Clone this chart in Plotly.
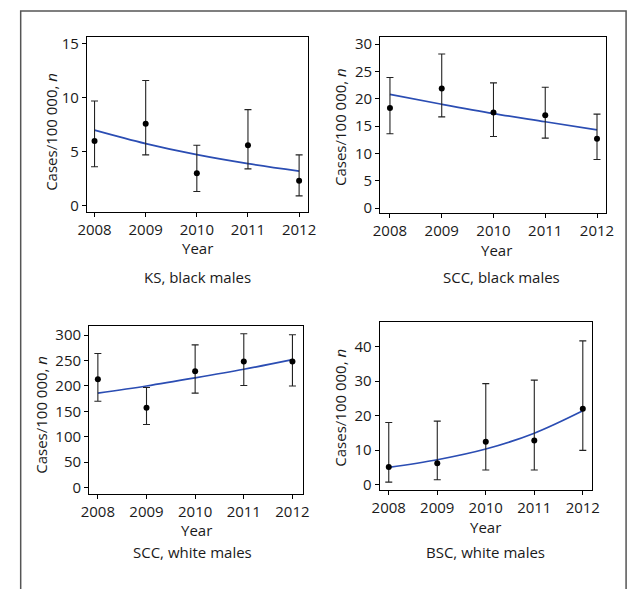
import plotly.graph_objects as go

years = [2008, 2009, 2010, 2011, 2012]
year_ticks = ["2008", "2009", "2010", "2011", "2012"]

# Panel 1: KS, black males
ks_black_val = [6.0, 7.6, 3.0, 5.6, 2.3]
ks_black_lo = [3.6, 4.7, 1.3, 3.4, 0.9]
ks_black_hi = [9.7, 11.6, 5.6, 8.9, 4.7]
ks_black_fit = [7.0, 5.75, 4.72, 3.89, 3.2]

# Panel 2: SCC, black males
scc_black_val = [18.3, 21.9, 17.5, 17.0, 12.7]
scc_black_lo = [13.6, 16.7, 13.1, 12.8, 8.9]
scc_black_hi = [23.9, 28.2, 22.9, 22.1, 17.2]
scc_black_fit = [20.8, 19.0, 17.3, 15.8, 14.3]

# Panel 3: SCC, white males
scc_white_val = [213, 157, 229, 248, 248]
scc_white_lo = [170, 124, 186, 201, 200]
scc_white_hi = [264, 197, 281, 303, 301]
scc_white_fit = [186, 200, 216, 233, 252]

# Panel 4: BSC, white males
bsc_white_val = [5.1, 6.2, 12.4, 12.8, 22.0]
bsc_white_lo = [0.7, 1.4, 4.2, 4.2, 9.9]
bsc_white_hi = [18.0, 18.4, 29.3, 30.3, 41.7]
bsc_white_fit = [5.0, 7.2, 10.3, 14.9, 21.4]

panel_titles = ["KS, black males", "SCC, black males", "SCC, white males", "BSC, white males"]
y_ticks = [[0, 5, 10, 15], [0, 5, 10, 15, 20, 25, 30],
           [0, 50, 100, 150, 200, 250, 300], [0, 10, 20, 30, 40]]

W, H = 637, 589
FONT = "Open Sans"
FS = 15
BLUE = "#2B4DB3"
TXT = "#1a1a1a"

def px(x):
    return x / W

def py(y):
    return 1 - y / H

panels = [
    dict(val=ks_black_val, lo=ks_black_lo, hi=ks_black_hi, fit=ks_black_fit,
         box=(80, 307, 33.7, 211.7), xr=[2007.85, 2012.17], yr=[-0.64, 15.62],
         ytitle=(43, 130), xtitle=(194, 248), ptitle=(194, 277)),
    dict(val=scc_black_val, lo=scc_black_lo, hi=scc_black_hi, fit=scc_black_fit,
         box=(381.3, 613.7, 33.7, 212), xr=[2007.81, 2012.18], yr=[-0.84, 31.26],
         ytitle=(340, 125), xtitle=(501, 250), ptitle=(506, 277)),
    dict(val=scc_white_val, lo=scc_white_lo, hi=scc_white_hi, fit=scc_white_fit,
         box=(82.3, 301.7, 326.7, 497.3), xr=[2007.82, 2012.21], yr=[-12.2, 318.7],
         ytitle=(32, 417), xtitle=(193, 534), ptitle=(189, 557)),
    dict(val=bsc_white_val, lo=bsc_white_lo, hi=bsc_white_hi, fit=bsc_white_fit,
         box=(380.7, 599, 323.3, 494), xr=[2007.81, 2012.19], yr=[-1.72, 47.07],
         ytitle=(340, 410), xtitle=(490, 531), ptitle=(490, 557)),
]

fig = go.Figure()
annotations = []
layout_axes = {}

for i, p in enumerate(panels):
    n = "" if i == 0 else str(i + 1)
    xa, ya = "x" + n, "y" + n
    plus = [h - v for h, v in zip(p["hi"], p["val"])]
    minus = [v - l for v, l in zip(p["val"], p["lo"])]
    fig.add_trace(go.Scatter(
        x=years, y=p["fit"], mode="lines", line=dict(color=BLUE, width=1.7, shape="spline"),
        xaxis=xa, yaxis=ya, showlegend=False, hoverinfo="skip"))
    fig.add_trace(go.Scatter(
        x=years, y=p["val"], mode="markers",
        marker=dict(color="black", size=6),
        error_y=dict(type="data", array=plus, arrayminus=minus, color="#222222",
                     thickness=1.1, width=3.5),
        xaxis=xa, yaxis=ya, showlegend=False))
    x0, x1, y0, y1 = p["box"]
    layout_axes["xaxis" + n] = dict(
        domain=[px(x0), px(x1)], range=p["xr"], anchor=ya,
        tickmode="array", tickvals=years, ticktext=year_ticks,
        showline=True, mirror=True, linecolor="black", linewidth=1,
        ticks="outside", ticklen=4, tickcolor="black", showgrid=False, zeroline=False,
        tickfont=dict(family=FONT, size=FS, color=TXT), fixedrange=True)
    layout_axes["yaxis" + n] = dict(
        domain=[py(y1), py(y0)], range=p["yr"], anchor=xa,
        tickmode="array", tickvals=y_ticks[i],
        showline=True, mirror=True, linecolor="black", linewidth=1,
        ticks="outside", ticklen=4, tickcolor="black", showgrid=False, zeroline=False,
        tickfont=dict(family=FONT, size=FS, color=TXT), fixedrange=True)
    tx, ty = p["ytitle"]
    annotations.append(dict(
        text="Cases/100 000, <i>n</i>", x=px(tx), y=py(ty), xref="paper", yref="paper",
        textangle=-90, showarrow=False, xanchor="center", yanchor="middle",
        font=dict(family=FONT, size=FS, color=TXT)))
    tx, ty = p["xtitle"]
    annotations.append(dict(
        text="Year", x=px(tx), y=py(ty), xref="paper", yref="paper",
        showarrow=False, xanchor="center", yanchor="middle",
        font=dict(family=FONT, size=FS, color=TXT)))
    tx, ty = p["ptitle"]
    annotations.append(dict(
        text=panel_titles[i], x=px(tx), y=py(ty), xref="paper", yref="paper",
        showarrow=False, xanchor="center", yanchor="middle",
        font=dict(family=FONT, size=FS, color=TXT)))

shapes = [dict(type="path", xref="paper", yref="paper",
               path=f"M {px(12)} {py(600)} L {px(12)} {py(7)} L {px(634)} {py(7)} L {px(634)} {py(600)}",
               line=dict(color="#555555", width=1.5))]

fig.update_layout(
    width=W, height=H, margin=dict(l=0, r=0, t=0, b=0),
    paper_bgcolor="white", plot_bgcolor="white",
    annotations=annotations, shapes=shapes, **layout_axes)

fig.write_html("out.html", config={"displayModeBar": False},
               post_script="document.body.style.margin='0';document.body.style.overflow='hidden';")
